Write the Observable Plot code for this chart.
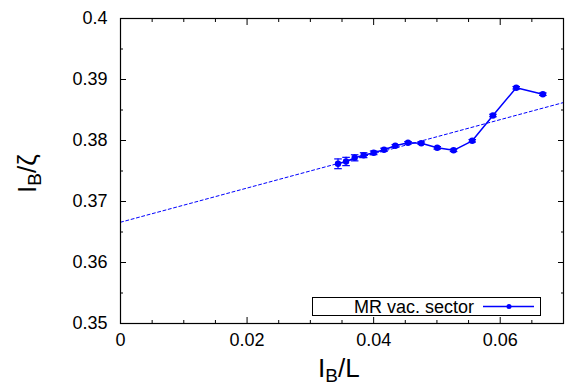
<!DOCTYPE html>
<html>
<head>
<meta charset="utf-8">
<script src="https://cdn.jsdelivr.net/npm/d3@7"></script>
<script src="https://cdn.jsdelivr.net/npm/@observablehq/plot@0.6"></script>
<style>
  body { margin: 0; background: #fff; }
  #wrap { position: relative; width: 566px; height: 386px; font-family: "Liberation Sans", Arial, sans-serif; overflow: hidden; }
  .lab { position: absolute; font-size: 26px; color: #000; white-space: nowrap; line-height: 1; }
  .lab sub { font-size: 19px; vertical-align: -5px; }
  #legend { position: absolute; left: 312px; top: 297px; width: 229px; height: 19px; border: 1px solid #000; background: #fff; box-sizing: border-box; font-size: 18px; }
</style>
</head>
<body>
<div id="wrap"></div>
<script>
// Data
const xVals = [0.03437, 0.03564, 0.03700, 0.03842, 0.04000, 0.04164, 0.04342, 0.04543, 0.04753, 0.05005, 0.05263, 0.05558, 0.05885, 0.06253, 0.06674];
const yVals = [0.37618, 0.37656, 0.37716, 0.37759, 0.37798, 0.37848, 0.37913, 0.37962, 0.37956, 0.37880, 0.37839, 0.37995, 0.38410, 0.38864, 0.38759];
const yErrs = [0.0008, 0.00068, 0.0005, 0.0004, 0.0003, 0.00025, 0.0002, 0.0002, 0.0002, 0.0002, 0.0002, 0.0002, 0.0002, 0.0002, 0.0002];
const fitIntercept = 0.3666;
const fitSlope = 0.2803;
const xDomain = [0, 0.07];
const yDomain = [0.35, 0.4];
const xMajorTicks = [0, 0.02, 0.04, 0.06];
const xMinorTicks = [0.005, 0.01, 0.015, 0.025, 0.03, 0.035, 0.045, 0.05, 0.055, 0.065];
const yMajorTicks = [0.35, 0.36, 0.37, 0.38, 0.39, 0.4];
const yMinorTicks = [0.355, 0.365, 0.375, 0.385, 0.395];
const seriesName = "MR vac. sector";

const data = xVals.map((x, i) => ({x, y: yVals[i], e: yErrs[i]}));
const fit = xDomain.map(x => ({x, y: fitIntercept + fitSlope * x}));
const fmt = d => String(+d.toFixed(3));
const blue = "#0000ff";
const fs = 18;
const capHalf = 0.0006;

const plot = Plot.plot({
  width: 566,
  height: 386,
  marginLeft: 120,
  marginRight: 3,
  marginTop: 18,
  marginBottom: 63,
  style: {fontFamily: "Liberation Sans, Arial, sans-serif", fontSize: fs + "px", color: "#000", background: "#fff"},
  x: {domain: xDomain, label: null},
  y: {domain: yDomain, label: null},
  marks: [
    Plot.line(fit, {x: "x", y: "y", stroke: blue, strokeWidth: 1, strokeDasharray: "3,2.5", clip: true}),
    Plot.ruleX(data, {x: "x", y1: d => d.y - d.e, y2: d => d.y + d.e, stroke: blue, strokeWidth: 1.2}),
    Plot.link(data, {x1: d => d.x - capHalf, x2: d => d.x + capHalf, y1: d => d.y - d.e, y2: d => d.y - d.e, stroke: blue, strokeWidth: 1.2}),
    Plot.link(data, {x1: d => d.x - capHalf, x2: d => d.x + capHalf, y1: d => d.y + d.e, y2: d => d.y + d.e, stroke: blue, strokeWidth: 1.2}),
    Plot.line(data, {x: "x", y: "y", stroke: blue, strokeWidth: 1.5}),
    Plot.dot(data, {x: "x", y: "y", fill: blue, r: 3.2}),
    Plot.frame({stroke: "#000", strokeWidth: 1.2}),
    Plot.axisX({ticks: xMajorTicks, anchor: "bottom", tickSize: -6, tickPadding: 16, tickFormat: fmt, fontSize: fs, label: null, stroke: "#000"}),
    Plot.axisX({ticks: xMinorTicks, anchor: "bottom", tickSize: -3, tickFormat: () => "", label: null}),
    Plot.axisX({ticks: xMajorTicks, anchor: "top", tickSize: -6, tickFormat: () => "", label: null}),
    Plot.axisX({ticks: xMinorTicks, anchor: "top", tickSize: -3, tickFormat: () => "", label: null}),
    Plot.axisY({ticks: yMajorTicks, anchor: "left", tickSize: -6, tickPadding: 19, tickFormat: fmt, fontSize: fs, label: null}),
    Plot.axisY({ticks: yMinorTicks, anchor: "left", tickSize: -3, tickFormat: () => "", label: null}),
    Plot.axisY({ticks: yMajorTicks, anchor: "right", tickSize: -6, tickFormat: () => "", label: null}),
    Plot.axisY({ticks: yMinorTicks, anchor: "right", tickSize: -3, tickFormat: () => "", label: null})
  ]
});

const wrap = document.getElementById("wrap");
wrap.appendChild(plot);

// Axis titles with subscripts
const xl = document.createElement("div");
xl.className = "lab";
xl.innerHTML = "I<sub>B</sub>/L";
xl.style.left = "318px";
xl.style.top = "355px";
wrap.appendChild(xl);

const yl = document.createElement("div");
yl.className = "lab";
yl.innerHTML = "I<sub>B</sub>/ζ";
yl.style.left = "0px";
yl.style.top = "0px";
yl.style.transformOrigin = "0 0";
yl.style.transform = "translate(14px, 193px) rotate(-90deg)";
wrap.appendChild(yl);

// Legend
const lg = document.createElement("div");
lg.id = "legend";
const ns = "http://www.w3.org/2000/svg";
lg.innerHTML = `<span style="position:absolute; right:66px; top:-1px;">${seriesName}</span>`;
const sv = document.createElementNS(ns, "svg");
sv.setAttribute("width", "60"); sv.setAttribute("height", "17");
sv.style.position = "absolute"; sv.style.right = "0px"; sv.style.top = "0px";
sv.innerHTML = `<line x1="3" x2="54" y1="8.5" y2="8.5" stroke="${blue}" stroke-width="1.5"/><circle cx="29" cy="8.5" r="2.5" fill="${blue}"/>`;
lg.appendChild(sv);
wrap.appendChild(lg);
</script>
</body>
</html>
